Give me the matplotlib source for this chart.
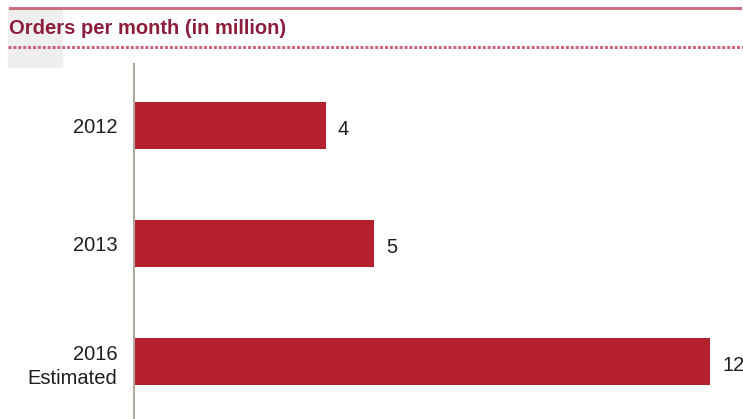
import matplotlib.pyplot as plt
from matplotlib.patches import Rectangle
from matplotlib.lines import Line2D

# data
categories = ['2012', '2013', '2016\nEstimated']
orders = [4, 5, 12]
title = 'Orders per month (in million)'

bar_red = '#B5202F'
title_red = '#8C1D3C'
rule_pink = '#C4566E'

plt.rcParams['font.family'] = ['Liberation Sans', 'DejaVu Sans']

W, H = 743, 419
fig = plt.figure(figsize=(W / 100, H / 100), dpi=100)

# grey tab behind the start of the title
fig.patches.append(Rectangle((8 / W, 1 - 67 / H), 54 / W, 59 / H,
                             transform=fig.transFigure, color='#EFEFEF', zorder=0))
# solid rule on top, dotted rule under the title
fig.lines.append(Line2D([10 / W, 740 / W], [1 - 8 / H] * 2, transform=fig.transFigure,
                        color=rule_pink, lw=2.2, alpha=0.85))
fig.lines.append(Line2D([8 / W, 1], [1 - 47 / H] * 2, transform=fig.transFigure,
                        color=rule_pink, lw=2.2, ls=(0, (1, 0.6)), alpha=0.9))
fig.text(9 / W, 1 - 28 / H, title, color=title_red, fontsize=14.5,
         fontweight='bold', va='center', ha='left')

ax = fig.add_axes([134 / W, 0, 1 - 134 / W, 1 - 64 / H])
y = range(len(categories))
ax.barh(y, orders, height=0.4, color=bar_red)
ax.set_xlim(0, (W - 134) / 48)
ax.set_ylim(2.487, -0.521)

for yi, v in zip(y, orders):
    ax.text(v + 0.25, yi + 0.03, str(v), va='center', ha='left', fontsize=14.5,
            color='#1E1E1E', clip_on=False)

ax.set_yticks(list(y))
ax.set_yticklabels(categories, fontsize=14.5, color='#1E1E1E', ha='right',
                   multialignment='right', linespacing=1.35)
ax.tick_params(axis='y', length=0, pad=12)
ax.set_xticks([])
for s in ['top', 'right', 'bottom']:
    ax.spines[s].set_visible(False)
ax.spines['left'].set_color('#B0A8A0')
ax.spines['left'].set_linewidth(1.5)
ax.patch.set_alpha(0)

fig.savefig('out.png', dpi=100)
